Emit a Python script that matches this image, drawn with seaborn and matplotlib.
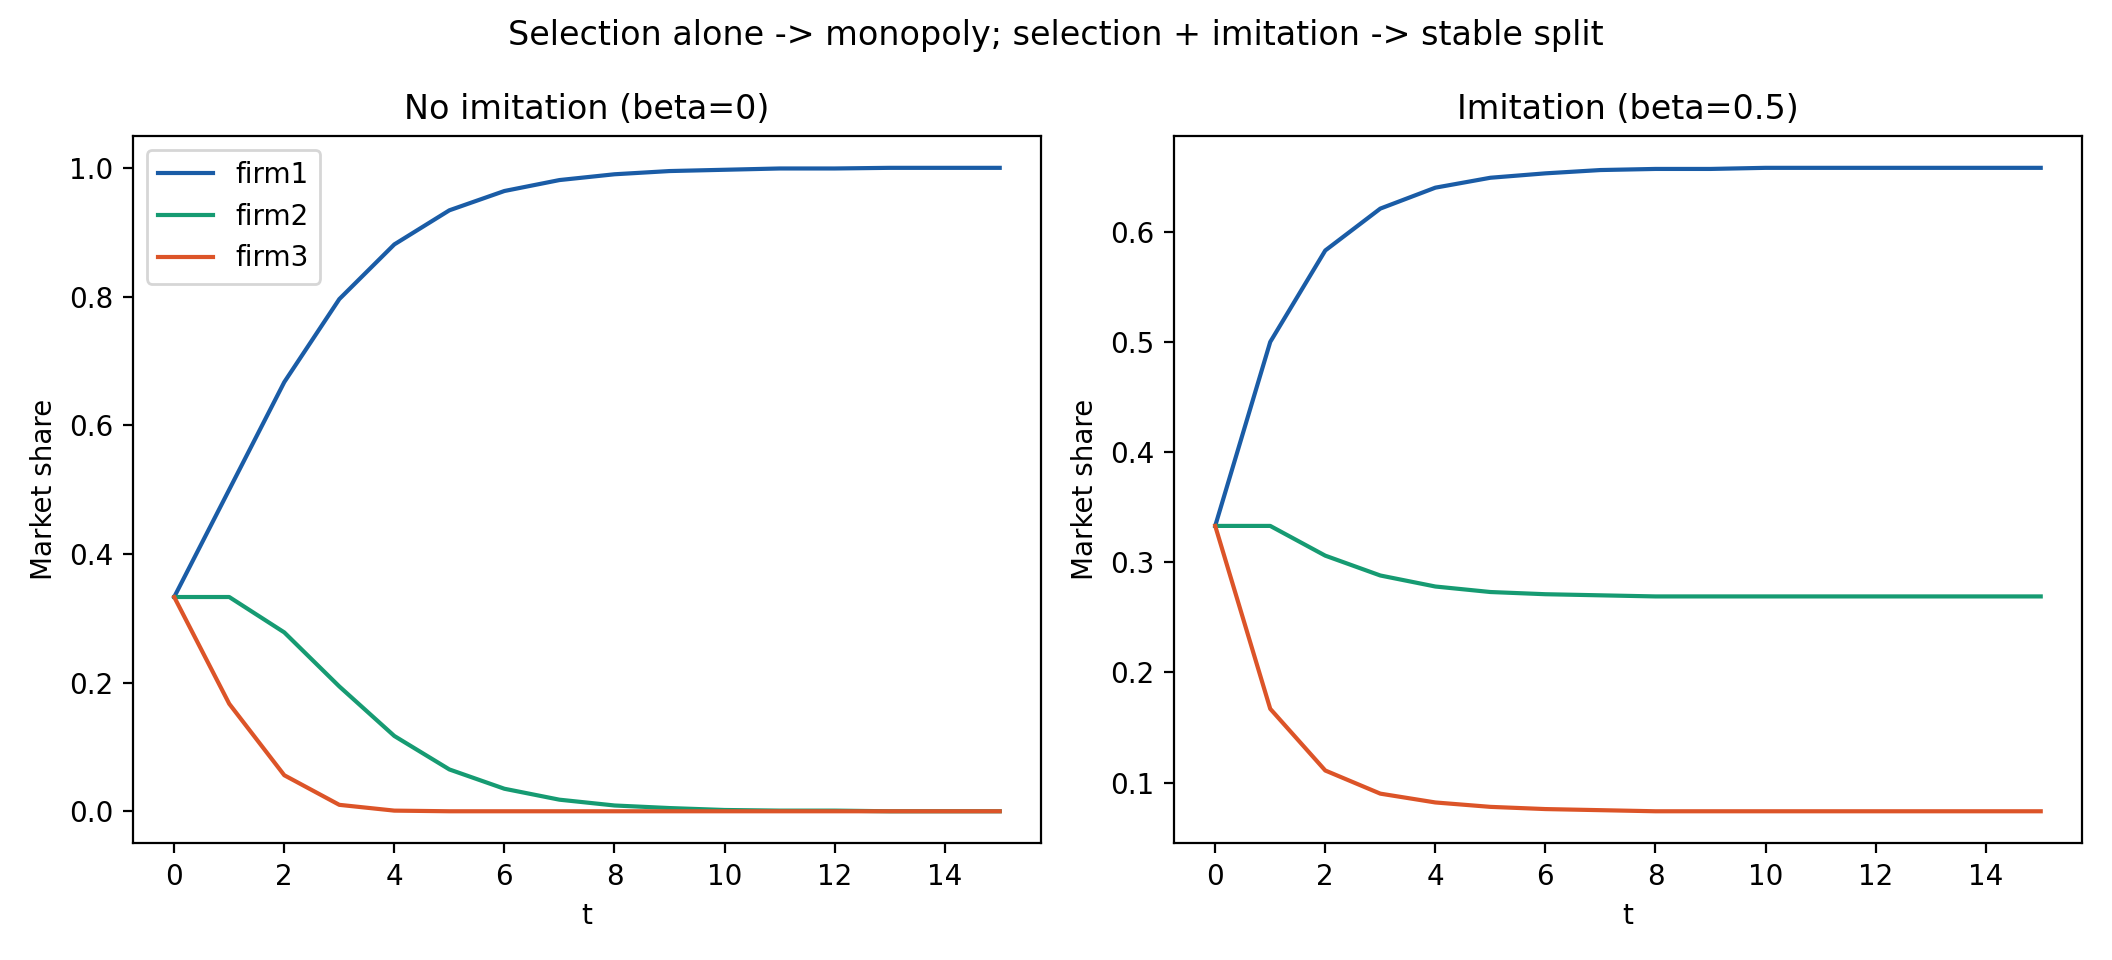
import pandas as pd
import seaborn as sns
import matplotlib.pyplot as plt

t = list(range(16))

# no imitation (beta=0)
firm1_b0 = [0.333, 0.5, 0.667, 0.796, 0.881, 0.934, 0.964, 0.981, 0.990, 0.995, 0.997, 0.999, 0.999, 1.0, 1.0, 1.0]
firm2_b0 = [0.333, 0.333, 0.278, 0.194, 0.117, 0.065, 0.035, 0.018, 0.009, 0.005, 0.002, 0.001, 0.001, 0.0, 0.0, 0.0]
firm3_b0 = [0.333, 0.167, 0.056, 0.010, 0.001, 0.0, 0.0, 0.0, 0.0, 0.0, 0.0, 0.0, 0.0, 0.0, 0.0, 0.0]

# imitation (beta=0.5)
firm1_b5 = [0.333, 0.5, 0.583, 0.621, 0.640, 0.649, 0.653, 0.656, 0.657, 0.657, 0.658, 0.658, 0.658, 0.658, 0.658, 0.658]
firm2_b5 = [0.333, 0.333, 0.306, 0.288, 0.278, 0.273, 0.271, 0.270, 0.269, 0.269, 0.269, 0.269, 0.269, 0.269, 0.269, 0.269]
firm3_b5 = [0.333, 0.167, 0.111, 0.090, 0.082, 0.078, 0.076, 0.075, 0.074, 0.074, 0.074, 0.074, 0.074, 0.074, 0.074, 0.074]

colors = {"firm1": "#1a5ca6", "firm2": "#169b72", "firm3": "#dc5428"}


def to_long(f1, f2, f3):
    df = pd.DataFrame({"t": t, "firm1": f1, "firm2": f2, "firm3": f3})
    return df.melt(id_vars="t", var_name="firm", value_name="share")


fig, ax = plt.subplots(1, 2, figsize=(10.56, 4.8), dpi=200)

sns.lineplot(ax=ax[0], data=to_long(firm1_b0, firm2_b0, firm3_b0), x="t", y="share",
             hue="firm", palette=colors, linewidth=1.5)
sns.lineplot(ax=ax[1], data=to_long(firm1_b5, firm2_b5, firm3_b5), x="t", y="share",
             hue="firm", palette=colors, linewidth=1.5, legend=False)

ax[0].legend(loc="upper left")
ax[0].set_title("No imitation (beta=0)")
ax[1].set_title("Imitation (beta=0.5)")
for a in ax:
    a.set_xlabel("t")
    a.set_ylabel("Market share")
    a.set_xticks(range(0, 16, 2))

fig.suptitle("Selection alone -> monopoly; selection + imitation -> stable split")
fig.tight_layout()
fig.savefig("out.png")
